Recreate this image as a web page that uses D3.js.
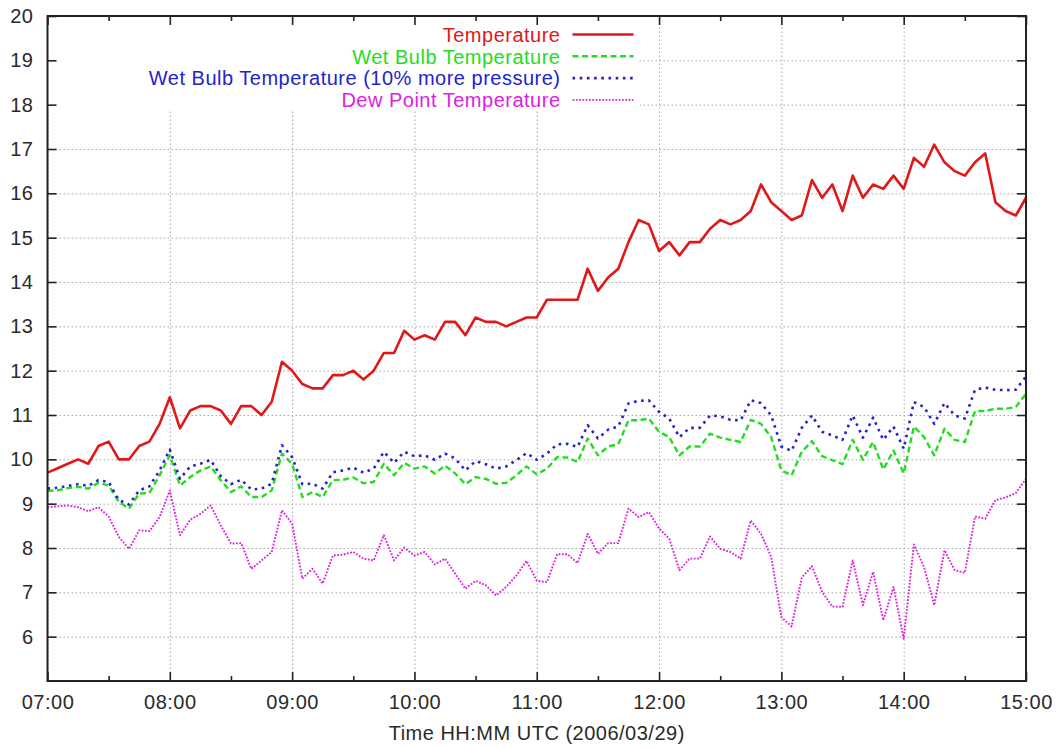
<!DOCTYPE html>
<html>
<head>
<meta charset="utf-8">
<script src="https://cdnjs.cloudflare.com/ajax/libs/d3/7.8.5/d3.min.js"></script>
<style>
body{margin:0;background:#fff;}
text{font-family:"Liberation Sans",Arial,sans-serif;letter-spacing:0.5px;}
</style>
</head>
<body>
<div id="chart"></div>
<script>
// sample times, 5 minute readings
var times = ["07:00","07:05","07:10","07:15","07:20","07:25","07:30","07:35","07:40","07:45","07:50","07:55",
  "08:00","08:05","08:10","08:15","08:20","08:25","08:30","08:35","08:40","08:45","08:50","08:55",
  "09:00","09:05","09:10","09:15","09:20","09:25","09:30","09:35","09:40","09:45","09:50","09:55",
  "10:00","10:05","10:10","10:15","10:20","10:25","10:30","10:35","10:40","10:45","10:50","10:55",
  "11:00","11:05","11:10","11:15","11:20","11:25","11:30","11:35","11:40","11:45","11:50","11:55",
  "12:00","12:05","12:10","12:15","12:20","12:25","12:30","12:35","12:40","12:45","12:50","12:55",
  "13:00","13:05","13:10","13:15","13:20","13:25","13:30","13:35","13:40","13:45","13:50","13:55",
  "14:00","14:05","14:10","14:15","14:20","14:25","14:30","14:35","14:40","14:45","14:50","14:55",
  "15:00"];
var temperature = [9.7,9.8,9.9,10.0,9.9,10.3,10.4,10.0,10.0,10.3,10.4,10.8,
  11.4,10.7,11.1,11.2,11.2,11.1,10.8,11.2,11.2,11.0,11.3,12.2,
  12.0,11.7,11.6,11.6,11.9,11.9,12.0,11.8,12.0,12.4,12.4,12.9,
  12.7,12.8,12.7,13.1,13.1,12.8,13.2,13.1,13.1,13.0,13.1,13.2,
  13.2,13.6,13.6,13.6,13.6,14.3,13.8,14.1,14.3,14.9,15.4,15.3,
  14.7,14.9,14.6,14.9,14.9,15.2,15.4,15.3,15.4,15.6,16.2,15.8,
  15.6,15.4,15.5,16.3,15.9,16.2,15.6,16.4,15.9,16.2,16.1,16.4,
  16.1,16.8,16.6,17.1,16.7,16.5,16.4,16.7,16.9,15.8,15.6,15.5,
  15.9];
var wetBulb = [9.29,9.3,9.35,9.38,9.34,9.47,9.41,9.04,8.89,9.23,9.24,9.64,
  10.09,9.41,9.6,9.75,9.84,9.53,9.26,9.39,9.15,9.15,9.3,10.13,
  9.9,9.15,9.26,9.15,9.53,9.54,9.59,9.46,9.49,9.9,9.64,9.92,
  9.79,9.84,9.68,9.86,9.68,9.44,9.6,9.56,9.45,9.47,9.64,9.84,
  9.66,9.79,10.05,10.04,9.94,10.47,10.09,10.29,10.34,10.88,10.88,10.92,
  10.62,10.5,10.09,10.29,10.29,10.58,10.49,10.44,10.39,10.89,10.8,10.5,
  9.75,9.64,10.17,10.41,10.07,9.98,9.89,10.44,9.99,10.39,9.77,10.2,
  9.68,10.74,10.5,10.09,10.69,10.44,10.39,11.09,11.09,11.14,11.14,11.18,
  11.48];
var wetBulbHighPressure = [9.34,9.36,9.4,9.44,9.4,9.53,9.49,9.08,8.98,9.3,9.39,9.75,
  10.22,9.56,9.84,9.9,9.99,9.62,9.44,9.54,9.32,9.34,9.45,10.32,
  10.05,9.44,9.45,9.34,9.71,9.75,9.81,9.7,9.79,10.17,9.92,10.17,
  10.07,10.09,9.99,10.13,10.02,9.75,9.96,9.89,9.79,9.84,9.98,10.14,
  9.99,10.13,10.34,10.35,10.28,10.77,10.47,10.67,10.74,11.26,11.32,11.33,
  11.07,10.92,10.5,10.71,10.71,10.99,10.97,10.89,10.88,11.33,11.27,10.99,
  10.29,10.19,10.71,10.99,10.62,10.54,10.44,10.99,10.49,10.94,10.44,10.74,
  10.24,11.29,11.18,10.8,11.27,10.99,10.92,11.57,11.62,11.57,11.56,11.57,
  11.87];
var dewPoint = [8.92,8.94,8.96,8.92,8.83,8.92,8.71,8.25,7.98,8.4,8.38,8.7,
  9.3,8.29,8.64,8.77,8.96,8.51,8.1,8.11,7.53,7.72,7.91,8.85,
  8.55,7.31,7.53,7.2,7.83,7.85,7.91,7.76,7.72,8.29,7.72,8.01,
  7.83,7.91,7.63,7.76,7.42,7.08,7.26,7.16,6.93,7.12,7.38,7.71,
  7.26,7.23,7.86,7.86,7.66,8.32,7.87,8.11,8.11,8.89,8.7,8.81,
  8.44,8.21,7.5,7.76,7.76,8.26,7.98,7.91,7.76,8.62,8.32,7.8,
  6.44,6.23,7.33,7.59,7.01,6.68,6.67,7.72,6.71,7.46,6.37,7.12,
  5.95,8.08,7.57,6.71,7.95,7.5,7.44,8.71,8.66,9.08,9.14,9.24,
  9.56];
var seriesNames = ["Temperature","Wet Bulb Temperature","Wet Bulb Temperature (10% more pressure)","Dew Point Temperature"];
var hourTicks = ["07:00","08:00","09:00","10:00","11:00","12:00","13:00","14:00","15:00"];
var halfHourTicks = ["07:30","08:30","09:30","10:30","11:30","12:30","13:30","14:30"];
var yTicks = [6,7,8,9,10,11,12,13,14,15,16,17,18,19,20];
var xTitle = "Time HH:MM UTC (2006/03/29)";

var width = 1059;
var height = 748;
var margin = {top:16, right:33, bottom:67, left:47.5};
var plotW = width - margin.left - margin.right;
var plotH = height - margin.top - margin.bottom;
var fontSize = '20px';

var parseTime = d3.timeParse('%H:%M');
var fmt = d3.timeFormat('%H:%M');

var x = d3.scaleTime().domain([parseTime('07:00'), parseTime('15:00')]).range([0, plotW]);
var y = d3.scaleLinear().domain([5, 20]).range([plotH, 0]);

// line looks, same order as seriesNames
var styles = [
  {color:'#e01818', width:2.6, dash:null},
  {color:'#22dd22', width:2.4, dash:'6,3.5'},
  {color:'#2323cc', width:2.6, dash:'2.6,4.6'},
  {color:'#dd22dd', width:1.9, dash:'1.8,1.5'}
];
var series = [temperature, wetBulb, wetBulbHighPressure, dewPoint];

var svg = d3.select('#chart')
  .append('svg')
  .attr('width', width)
  .attr('height', height);
var g = svg.append('g')
  .attr('transform', 'translate(' + margin.left + ',' + margin.top + ')');

//dotted grid
var grid = g.append('g').attr('class', 'grid');
grid.append('g')
  .attr('transform', 'translate(0,' + plotH + ')')
  .call(d3.axisBottom(x).tickValues(hourTicks.map(parseTime)).tickSize(-plotH).tickFormat(''));
grid.append('g')
  .call(d3.axisLeft(y).tickValues(yTicks).tickSize(-plotW).tickFormat(''));
grid.selectAll('.domain').remove();
grid.selectAll('line')
  .attr('stroke', '#a8a8a8')
  .attr('stroke-width', 1)
  .attr('stroke-dasharray', '1.5,2.5');

// key box hides the grid
g.append('rect')
  .attr('x', 0)
  .attr('y', 0)
  .attr('width', 592)
  .attr('height', 94)
  .attr('fill', '#fff');

var line = d3.line()
  .x(function(d, i){ return x(parseTime(times[i])); })
  .y(function(d){ return y(d); });

g.selectAll('path.series')
  .data(series)
  .enter()
  .append('path')
  .attr('class', 'series')
  .attr('d', function(d){ return line(d); })
  .attr('fill', 'none')
  .attr('stroke', function(d, i){ return styles[i].color; })
  .attr('stroke-width', function(d, i){ return styles[i].width; })
  .attr('stroke-dasharray', function(d, i){ return styles[i].dash; })
  .attr('stroke-linejoin', 'round');

//axes, ticks point inward
var axes = g.append('g').attr('class', 'axes');
var xAxisG = axes.append('g')
  .attr('transform', 'translate(0,' + plotH + ')')
  .call(d3.axisBottom(x).tickValues(hourTicks.map(parseTime)).tickSize(-9).tickFormat(fmt));
xAxisG.selectAll('text').attr('y', 28).attr('dy', 0);
axes.append('g')
  .attr('transform', 'translate(0,' + plotH + ')')
  .call(d3.axisBottom(x).tickValues(halfHourTicks.map(parseTime)).tickSize(-5).tickFormat(''));
axes.append('g')
  .call(d3.axisTop(x).tickValues(hourTicks.map(parseTime)).tickSize(-9).tickFormat(''));
axes.append('g')
  .call(d3.axisTop(x).tickValues(halfHourTicks.map(parseTime)).tickSize(-5).tickFormat(''));
axes.append('g')
  .call(d3.axisLeft(y).tickValues(yTicks).tickSize(-9).tickPadding(14));
axes.append('g')
  .attr('transform', 'translate(' + plotW + ',0)')
  .call(d3.axisRight(y).tickValues(yTicks).tickSize(-9).tickFormat(''));
axes.selectAll('.domain').remove();
axes.selectAll('line').attr('stroke', '#222').attr('stroke-width', 1.6);
axes.selectAll('text')
  .style('font-size', fontSize)
  .style('font-family', '"Liberation Sans", Arial, sans-serif')
  .attr('fill', '#2a2a2a');

g.append('rect')
  .attr('x', 0)
  .attr('y', 0)
  .attr('width', plotW)
  .attr('height', plotH)
  .attr('fill', 'none')
  .attr('stroke', '#222')
  .attr('stroke-width', 2);

g.append('text')
  .text(xTitle)
  .attr('x', plotW / 2)
  .attr('y', plotH + 59)
  .attr('text-anchor', 'middle')
  .style('font-size', fontSize)
  .attr('fill', '#2a2a2a');

// key
var key = g.append('g').attr('class', 'key');
var keyRow = key.selectAll('g')
  .data(seriesNames)
  .enter()
  .append('g')
  .attr('transform', function(d, i){ return 'translate(0,' + (18.5 + i * 21.8) + ')'; });
keyRow.append('text')
  .text(function(d){ return d; })
  .attr('x', 513)
  .attr('dy', '0.36em')
  .attr('text-anchor', 'end')
  .style('font-size', fontSize)
  .attr('fill', function(d, i){ return styles[i].color; });
keyRow.append('line')
  .attr('x1', 525)
  .attr('x2', 586)
  .attr('stroke', function(d, i){ return styles[i].color; })
  .attr('stroke-width', function(d, i){ return styles[i].width; })
  .attr('stroke-dasharray', function(d, i){ return styles[i].dash; });
</script>
</body>
</html>
